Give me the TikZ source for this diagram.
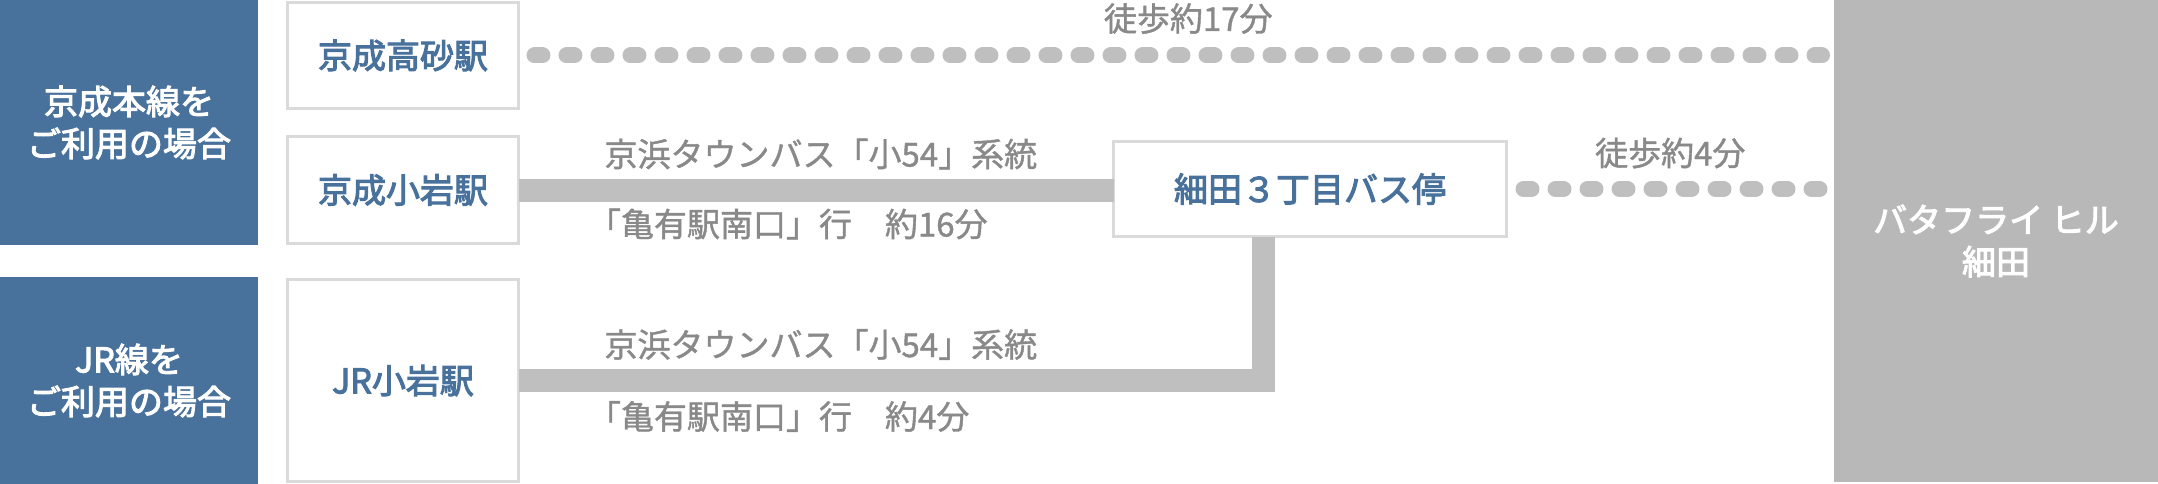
\documentclass[tikz,border=0pt]{standalone}
\usepackage{fontspec}
\setmainfont{Noto Sans CJK JP}
\newfontfamily\jpmid{Noto Sans CJK JP}[FakeBold=3]
\newfontfamily\jpnote{Noto Sans CJK JP}[FakeBold=1.2]
\usetikzlibrary{positioning, calc}
\definecolor{primary}{RGB}{72,113,156}
\definecolor{linegray}{RGB}{191,191,191}
\definecolor{goalgray}{RGB}{184,184,184}
\definecolor{framegray}{RGB}{218,218,218}
\definecolor{notegray}{RGB}{137,137,137}
\tikzset{
  linebox/.style={rectangle, fill=primary, text=white, align=center,
                  minimum width=258pt, inner sep=0pt, outer sep=0pt,
                  font=\fontsize{34}{42}\selectfont\jpmid},
  stationbox/.style={rectangle, draw=framegray, line width=3pt, fill=white,
                     text=primary, align=center, minimum width=231pt,
                     inner sep=0pt, outer sep=0pt,
                     font=\fontsize{34}{42}\selectfont\jpmid},
  goalbox/.style={rectangle, fill=goalgray, text=white, align=center,
                  minimum width=324pt, minimum height=482pt, inner sep=0pt,
                  outer sep=0pt, font=\fontsize{34}{42}\selectfont\jpmid},
  busline/.style={line width=23pt, color=linegray},
  walkline/.style={line width=16pt, color=linegray, line cap=round,
                   dash pattern=on 8pt off 24pt},
  note/.style={text=notegray, inner sep=0pt, font=\fontsize{33}{40}\selectfont\jpnote},
}
\begin{document}
\begin{tikzpicture}[x=1pt, y=-1pt]
  \useasboundingbox (0,0) rectangle (2158,484);
  % lines and stations
  \node[linebox, minimum height=245pt] (keisei) at (129,122.5) {京成本線を\\ご利用の場合};
  \node[linebox, minimum height=207pt] (jr) at (129,380.5) {JR線を\\ご利用の場合};
  \node[stationbox, minimum height=106pt] (takasago) at (403,55.5) {京成高砂駅};
  \node[stationbox, minimum height=107pt, below=28pt of takasago] (koiwa) {京成小岩駅};
  \node[stationbox, minimum height=202pt, right=29.5pt of jr] (jrkoiwa) {JR小岩駅};
  \node[stationbox, minimum width=393pt, minimum height=95pt] (busstop) at (1310,189) {細田３丁目バス停};
  \node[goalbox] (goal) at (1996,241) {バタフライ ヒル\\細田};

  % walking
  \draw[walkline, shorten <=16pt, shorten >=12pt] (takasago.east) -- (takasago.east -| goal.west)
    node[note, midway, anchor=base, xshift=12pt, yshift=24.5pt] {徒歩約17分};
  \draw[walkline, shorten <=17pt, shorten >=12pt] (busstop.east) -- (busstop.east -| goal.west)
    node[note, midway, anchor=base, yshift=23.5pt] {徒歩約4分};

  % buses
  \draw[busline] (koiwa.east) -- (koiwa.east -| busstop.west)
    node[note, pos=0, anchor=base west, xshift=74.5pt, yshift=23.5pt] {京浜タウンバス「小54」系統}
    node[note, pos=0, anchor=base west, xshift=58pt, yshift=-46.5pt] {「亀有駅南口」行　約16分};
  \draw[busline] (jrkoiwa.east) -| ([xshift=-47pt]busstop.south)
    node[note, pos=0, anchor=base west, xshift=74.5pt, yshift=23.5pt] {京浜タウンバス「小54」系統}
    node[note, pos=0, anchor=base west, xshift=58pt, yshift=-48.5pt] {「亀有駅南口」行　約4分};
\end{tikzpicture}
\end{document}
